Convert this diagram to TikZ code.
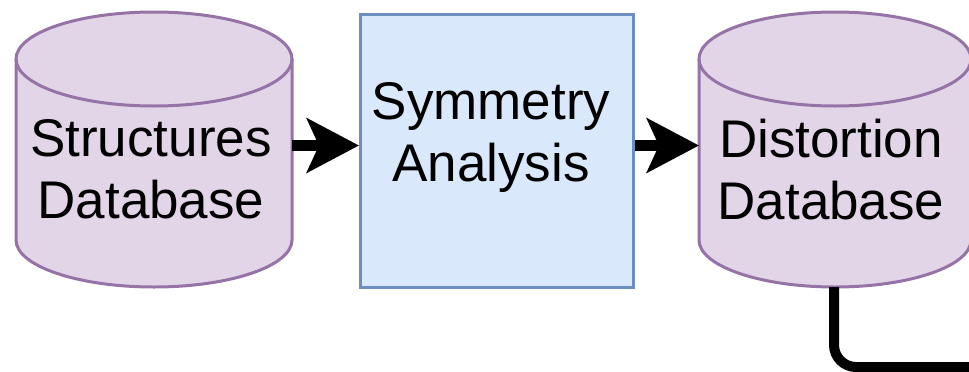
\documentclass[tikz,border=0pt]{standalone}
\usepackage{fontspec}
\setmainfont{Liberation Sans}
\usetikzlibrary{arrows.meta}
\definecolor{cylfill}{HTML}{E1D5E7}
\definecolor{cyldraw}{HTML}{9673A6}
\definecolor{boxfill}{HTML}{DAE8FC}
\definecolor{boxdraw}{HTML}{6C8EBF}
\tikzset{
  x=1pt, y=-1pt,
  cylshape/.style={fill=cylfill, draw=cyldraw, line width=3pt},
  procbox/.style={fill=boxfill, draw=boxdraw, line width=3pt},
  lbl/.style={align=center, font=\fontsize{53}{62}\selectfont, inner sep=0pt},
  flow/.style={line width=11pt, -{Stealth[length=52pt, width=54pt, inset=12pt]}},
  link/.style={line width=10pt, rounded corners=22pt},
}
\begin{document}
\begin{tikzpicture}
\clip (0,0) rectangle (969,372);
% left cylinder
\path[cylshape] (16,59) -- (16,240) arc[start angle=180, end angle=0, x radius=138, y radius=47]
  -- (292,59) arc[start angle=360, end angle=180, x radius=138, y radius=47] -- cycle;
\draw[cyldraw, line width=3pt] (16,59) arc[start angle=180, end angle=0, x radius=138, y radius=47];
\node[lbl] (sdb) at (151,169.5) {Structures\\Database};
\coordinate (sdbR) at (292,145.5);
% box
\node[procbox, minimum width=273pt, minimum height=273pt, anchor=north west, inner sep=0pt] (sym) at (359,13) {};
\node[lbl] (symt) at (491,137.5) {Symmetry\\Analysis};
% right cylinder
\path[cylshape] (699,59) -- (699,240) arc[start angle=180, end angle=0, x radius=136, y radius=47]
  -- (971,59) arc[start angle=360, end angle=180, x radius=136, y radius=47] -- cycle;
\draw[cyldraw, line width=3pt] (699,59) arc[start angle=180, end angle=0, x radius=136, y radius=47];
\node[lbl] (ddb) at (831,169.5) {Distortion\\Database};
\coordinate (ddbL) at (699,145.5);
\coordinate (ddbB) at (834,287);
\coordinate (out) at (1000,367);
% connectors
\draw[flow] (sdbR) -- (sym.west |- sdbR);
\draw[flow] (sym.east |- ddbL) -- (ddbL);
\draw[link] (ddbB) |- (out);
\end{tikzpicture}
\end{document}
